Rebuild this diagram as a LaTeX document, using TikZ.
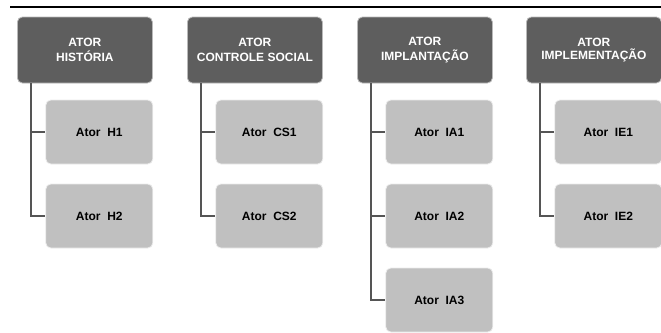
\documentclass[tikz,border=0pt]{standalone}
\usepackage{fontspec}
\setsansfont{Liberation Sans}
\usepackage{xcolor}
\usetikzlibrary{trees}

\definecolor{atordark}{HTML}{5E5E5E}
\definecolor{atorlight}{HTML}{C0C0C0}
\definecolor{atorline}{HTML}{555555}

\tikzset{
    chefe/.style = {rectangle, rounded corners=5pt, fill=atordark, draw=gray!55,
                    line width=0.8pt, minimum width=135pt, minimum height=66pt,
                    inner sep=0pt, text=white, align=center,
                    font=\sffamily\bfseries\fontsize{12}{15.5}\selectfont},
    membro/.style = {rectangle, rounded corners=5pt, fill=atorlight, draw=gray!15,
                    line width=0.8pt, minimum width=107pt, minimum height=64pt,
                    inner sep=0pt, text=black,
                    font=\sffamily\bfseries\fontsize{12}{14}\selectfont}
}

\begin{document}
\begin{tikzpicture}[x=1pt, y=1pt,
                every node/.append style = {anchor = west},
                grow via three points={one child at (-39.5,-82) and two children at (-39.5,-82) and (-39.5,-166)},
                edge from parent path={([xshift=14pt]\tikzparentnode.south west) |- (\tikzchildnode.west)},
                edge from parent/.style={draw=atorline, line width=1.5pt}]
            \useasboundingbox (0,0) rectangle (661,-332);
            \draw[line width=2pt] (10,-7) -- (661,-7);
            % historia
            \node[chefe] (hist) at (17,-50) {ATOR\\HISTÓRIA}
                    child {node[membro] (h1) {Ator~~H1}}
                    child {node[membro] (h2) {Ator~~H2}};
            % controle social
            \node[chefe] (cs) at (187,-50) {ATOR\\CONTROLE SOCIAL}
                    child {node[membro] (cs1) {Ator~~CS1}}
                    child {node[membro] (cs2) {Ator~~CS2}};
            % implantacao
            \node[chefe] (ia) at (357,-50) {ATOR\\IMPLANTAÇÃO}
                    child {node[membro] (ia1) {Ator~~IA1}}
                    child {node[membro] (ia2) {Ator~~IA2}}
                    child {node[membro] (ia3) {Ator~~IA3}};
            % implementacao
            \node[chefe, font=\sffamily\bfseries\fontsize{12}{12.5}\selectfont] (ie) at (526,-50) {ATOR\\IMPLEMENTAÇÃO}
                    child {node[membro] (ie1) {Ator~~IE1}}
                    child {node[membro] (ie2) {Ator~~IE2}};
\end{tikzpicture}
\end{document}
